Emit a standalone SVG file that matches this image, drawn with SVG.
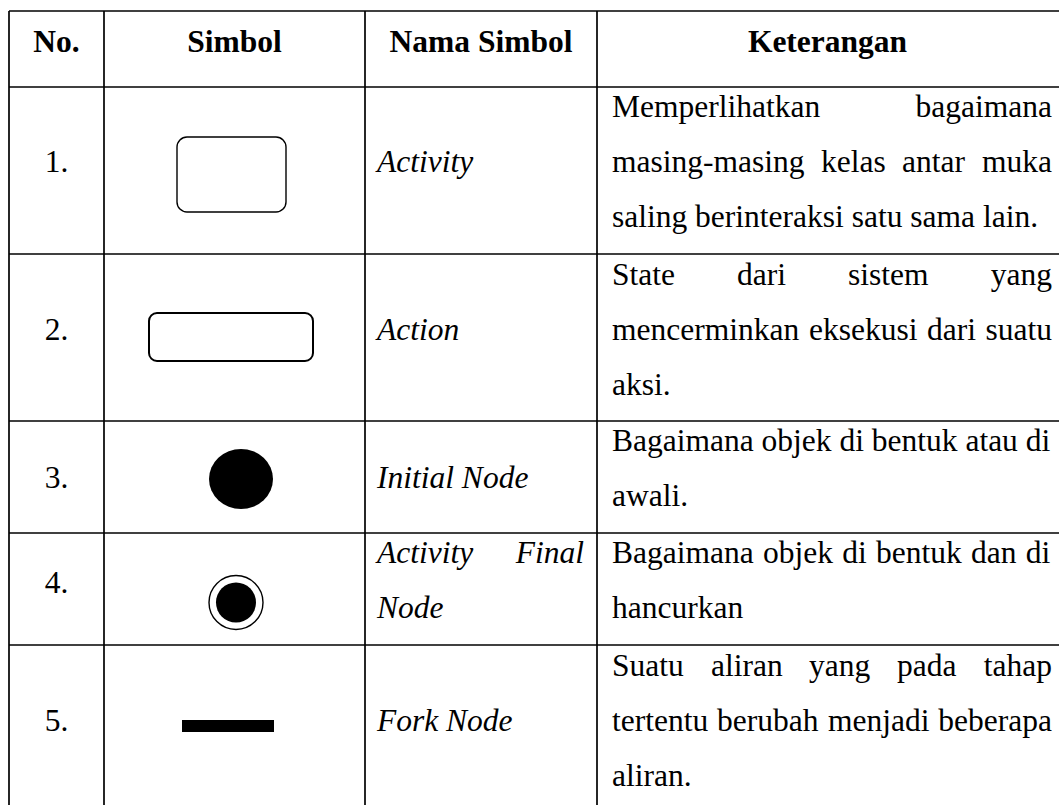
<svg xmlns="http://www.w3.org/2000/svg" width="1059" height="805" viewBox="0 0 1059 805">
<style>
text{font-family:"Liberation Serif","Times New Roman",serif;font-size:31.5px;fill:#000}
.h{font-weight:bold;text-anchor:middle}
.n{text-anchor:middle}
.i{font-style:italic}
.e{text-anchor:end}
.grid{stroke:#000;stroke-width:1.7;fill:none}
</style>
<rect width="1059" height="805" fill="#fff"/>
<g id="grid" class="grid">
<line x1="9" y1="11" x2="1059" y2="11"/>
<line x1="9" y1="87" x2="1059" y2="87"/>
<line x1="9" y1="254" x2="1059" y2="254"/>
<line x1="9" y1="421" x2="1059" y2="421"/>
<line x1="9" y1="533" x2="1059" y2="533"/>
<line x1="9" y1="645" x2="1059" y2="645"/>
<line x1="9" y1="11" x2="9" y2="805"/>
<line x1="104" y1="11" x2="104" y2="805"/>
<line x1="365" y1="11" x2="365" y2="805"/>
<line x1="597" y1="11" x2="597" y2="805"/>
</g>
<g id="header">
<text class="h" x="56.5" y="52">No.</text>
<text class="h" x="234.5" y="52">Simbol</text>
<text class="h" x="481" y="52">Nama Simbol</text>
<text class="h" x="827.5" y="52">Keterangan</text>
</g>
<g id="row1">
<text class="n" x="56.5" y="172">1.</text>
<rect x="177" y="137" width="109" height="75" rx="10" fill="#fff" stroke="#000" stroke-width="1.4"/>
<text class="i" x="377" y="172">Activity</text>
<text x="612" y="117">Memperlihatkan</text>
<text class="e" x="1052" y="117">bagaimana</text>
<text x="612" y="172">masing-masing</text>
<text x="821" y="172">kelas</text>
<text x="902" y="172">antar</text>
<text class="e" x="1052" y="172">muka</text>
<text x="612" y="227">saling berinteraksi satu sama lain.</text>
</g>
<g id="row2">
<text class="n" x="56.5" y="340">2.</text>
<rect x="149" y="313" width="164" height="48" rx="8" fill="#fff" stroke="#000" stroke-width="2"/>
<text class="i" x="377" y="340">Action</text>
<text x="612" y="285">State</text>
<text x="737" y="285">dari</text>
<text x="848" y="285">sistem</text>
<text class="e" x="1052" y="285">yang</text>
<text x="612" y="340">mencerminkan</text>
<text x="809" y="340">eksekusi</text>
<text x="927" y="340">dari</text>
<text class="e" x="1052" y="340">suatu</text>
<text x="612" y="395">aksi.</text>
</g>
<g id="row3">
<text class="n" x="56.5" y="488">3.</text>
<ellipse cx="241" cy="479" rx="32" ry="30" fill="#000"/>
<text class="i" x="377" y="488">Initial Node</text>
<text x="612" y="451">Bagaimana objek di bentuk atau di</text>
<text x="612" y="506">awali.</text>
</g>
<g id="row4">
<text class="n" x="56.5" y="593">4.</text>
<circle cx="236" cy="602.5" r="27" fill="#fff" stroke="#000" stroke-width="1.4"/>
<circle cx="236" cy="602.5" r="20" fill="#000"/>
<text class="i" x="377" y="563">Activity</text>
<text class="i e" x="584" y="563">Final</text>
<text class="i" x="377" y="618">Node</text>
<text x="612" y="563" word-spacing="1.4">Bagaimana objek di bentuk dan di</text>
<text x="612" y="618">hancurkan</text>
</g>
<g id="row5">
<text class="n" x="56.5" y="731">5.</text>
<rect x="182" y="720" width="92" height="12" fill="#000"/>
<text class="i" x="377" y="731">Fork Node</text>
<text x="612" y="676">Suatu</text>
<text x="711" y="676">aliran</text>
<text x="809" y="676">yang</text>
<text x="897" y="676">pada</text>
<text class="e" x="1052" y="676">tahap</text>
<text x="612" y="731">tertentu</text>
<text x="717" y="731">berubah</text>
<text x="828" y="731">menjadi</text>
<text class="e" x="1052" y="731">beberapa</text>
<text x="612" y="786">aliran.</text>
</g>
</svg>
